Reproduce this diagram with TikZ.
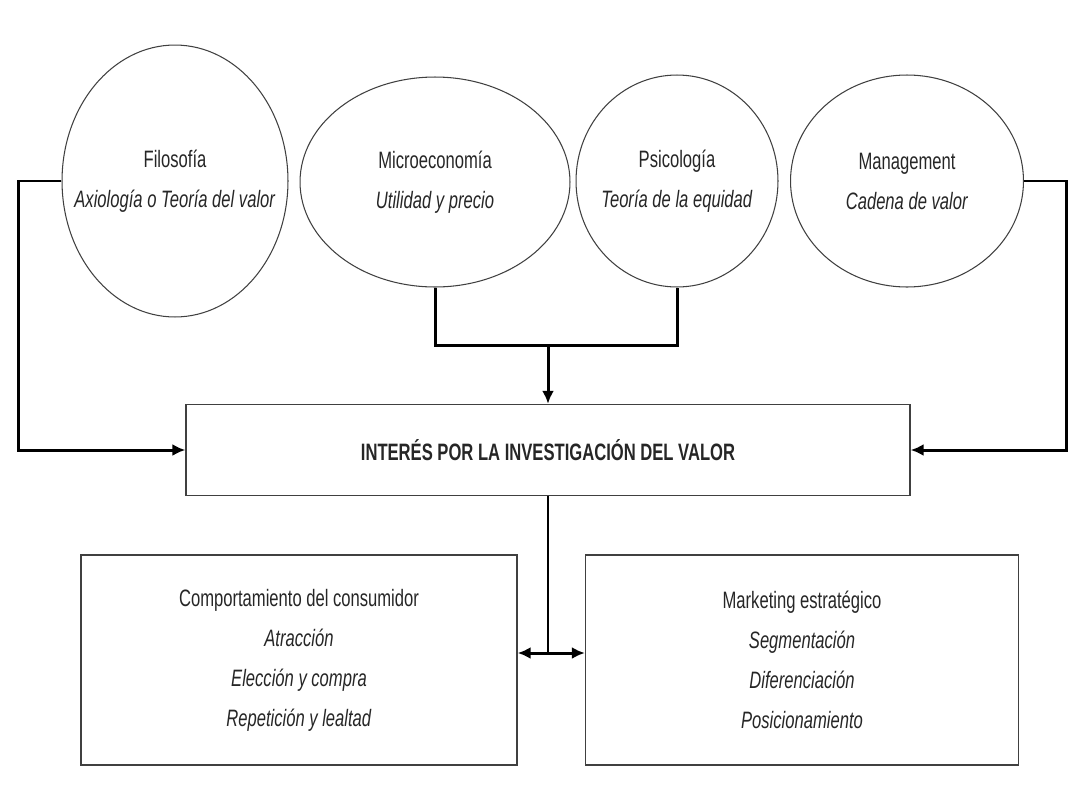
\documentclass[tikz,border=0pt]{standalone}
\usepackage{fontspec}
\setmainfont{Liberation Sans}[FakeStretch=0.7]
\usetikzlibrary{arrows.meta,shapes.geometric}

\begin{document}
\begin{tikzpicture}[x=0.02cm,y=-0.02cm,
  texto/.style={align=center,text=black!85,font=\fontsize{13.5}{22.8}\selectfont},
  campo/.style={ellipse,draw=black!75,line width=0.6pt,inner sep=0pt},
  caja/.style={rectangle,draw=black!75,line width=0.8pt,inner sep=0pt,texto},
  enlace/.style={line width=1.7pt},
  punta/.style={-{Latex[length=2.6mm,width=2.4mm]}}]

\useasboundingbox (0,0) rectangle (1081,805);

% DISCIPLINAS

\node[campo,minimum width=4.52cm,minimum height=5.44cm,
  label={[texto]center:Filosofía\\\textit{Axiología o Teoría del valor}}] (filo) at (175,181) {};
\node[campo,minimum width=5.4cm,minimum height=4.2cm,
  label={[texto]center:Microeconomía\\\textit{Utilidad y precio}}] (micro) at (435,182) {};
\node[campo,minimum width=4.04cm,minimum height=4.24cm,
  label={[texto]center:Psicología\\\textit{Teoría de la equidad}}] (psico) at (677,181) {};
\node[campo,minimum width=4.66cm,minimum height=4.24cm,
  label={[texto]center:Management\\\textit{Cadena de valor}}] (mana) at (907,181) {};

% CAJAS

\node[caja,minimum width=14.48cm,minimum height=1.82cm] (interes) at (548,450)
  {\textbf{INTERÉS POR LA INVESTIGACIÓN DEL VALOR}};
\node[caja,minimum width=8.72cm,minimum height=4.2cm] (comp) at (299,660)
  {Comportamiento del consumidor\\\textit{Atracción}\\\textit{Elección y compra}\\\textit{Repetición y lealtad}};
\node[caja,minimum width=8.66cm,minimum height=4.2cm] (mark) at (802,660)
  {Marketing estratégico\\\textit{Segmentación}\\\textit{Diferenciación}\\\textit{Posicionamiento}};

% CONEXIONES

\coordinate (union) at (548,345);
\coordinate (reparto) at (548,653);

\draw[enlace,punta] (filo.west) -- ++(-43,0) |- (interes.west);
\draw[enlace,punta] (mana.east) -- ++(42,0) |- (interes.east);
\draw[enlace] (micro.south) |- (union) -| (psico.south);
\draw[enlace,punta] (union) -- (interes.north);
\draw[line width=1.2pt] (interes.south) -- (reparto);
\draw[enlace,{Latex[length=2.6mm,width=2.4mm]}-{Latex[length=2.6mm,width=2.4mm]}]
  (comp.east |- reparto) -- (mark.west |- reparto);

\end{tikzpicture}
\end{document}
